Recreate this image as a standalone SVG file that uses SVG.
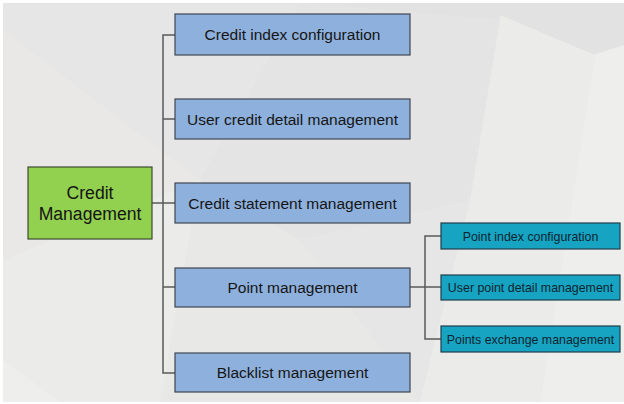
<svg xmlns="http://www.w3.org/2000/svg" width="624" height="404" viewBox="0 0 624 404">
  <style>
    .lvl1 rect { fill: #8eb0dc; stroke: #3f4650; stroke-width: 1.2; }
    .lvl1 text { font-family: "Liberation Sans", Arial, sans-serif; font-size: 15.5px; fill: #151515; text-anchor: middle; }
    .root rect { fill: #92d050; stroke: #3f4a33; stroke-width: 1.2; }
    .root text { font-family: "Liberation Sans", Arial, sans-serif; font-size: 17.6px; fill: #151515; text-anchor: middle; }
    .lvl2 rect { fill: #17a3c2; stroke: #1f3f4a; stroke-width: 1.2; }
    .lvl2 text { font-family: "Liberation Sans", Arial, sans-serif; font-size: 12.4px; fill: #0e2530; text-anchor: middle; }
    .links path { fill: none; stroke: #5a5a5a; stroke-width: 1.5; }
  </style>

  <!-- low-poly backdrop -->
  <rect x="0" y="0" width="624" height="404" fill="#ffffff"/>
  <g id="backdrop" stroke="none">
    <rect x="3" y="3" width="621" height="399" fill="#e7e6e6"/>
    <polygon points="3,3 624,3 624,45 590,55 500,20 300,3" fill="#e3e2e3"/>
    <polygon points="3,30 200,180 3,260" fill="#e9e8e7"/>
    <polygon points="500,15 595,55 540,402 420,402 470,200" fill="#ebebea"/>
    <polygon points="595,55 624,45 624,402 540,402" fill="#eeeeec"/>
    <polygon points="3,260 200,180 160,402 3,402" fill="#ebebe9"/>
    <polygon points="160,402 200,180 300,240 420,402" fill="#e8e8e7"/>
    <polygon points="300,3 500,20 470,200 300,240 200,180" fill="#e5e4e5"/>
    <polygon points="3,360 60,402 3,402" fill="#eeeeec"/>
  </g>

  <!-- connectors -->
  <g id="connectors" class="links">
    <path d="M152,203 H163"/>
    <path d="M175,35 H163 V373 H175"/>
    <path d="M163,119 H175"/>
    <path d="M163,203 H175"/>
    <path d="M163,287 H175"/>
    <path d="M410,287 H425"/>
    <path d="M441,236 H425 V339 H441"/>
    <path d="M425,287 H441"/>
  </g>

  <g id="credit-management" class="root">
    <rect x="28" y="167" width="124" height="72"/>
    <text x="90" y="199">Credit</text>
    <text x="90" y="220">Management</text>
  </g>

  <g id="credit-index-configuration" class="lvl1">
    <rect x="175" y="14" width="235" height="41"/>
    <text x="292.5" y="40">Credit index configuration</text>
  </g>
  <g id="user-credit-detail-management" class="lvl1">
    <rect x="175" y="99" width="235" height="40"/>
    <text x="292.5" y="124.5">User credit detail management</text>
  </g>
  <g id="credit-statement-management" class="lvl1">
    <rect x="175" y="183" width="235" height="40"/>
    <text x="292.5" y="208.5">Credit statement management</text>
  </g>
  <g id="point-management" class="lvl1">
    <rect x="175" y="268" width="235" height="39"/>
    <text x="292.5" y="293">Point management</text>
  </g>
  <g id="blacklist-management" class="lvl1">
    <rect x="175" y="353" width="235" height="39"/>
    <text x="292.5" y="378">Blacklist management</text>
  </g>

  <g id="point-index-configuration" class="lvl2">
    <rect x="441" y="223" width="179" height="26"/>
    <text x="530.5" y="240.5">Point index configuration</text>
  </g>
  <g id="user-point-detail-management" class="lvl2">
    <rect x="441" y="275" width="179" height="25"/>
    <text x="530.5" y="292">User point detail management</text>
  </g>
  <g id="points-exchange-management" class="lvl2">
    <rect x="441" y="326" width="179" height="26"/>
    <text x="530.5" y="343.5">Points exchange management</text>
  </g>
</svg>
